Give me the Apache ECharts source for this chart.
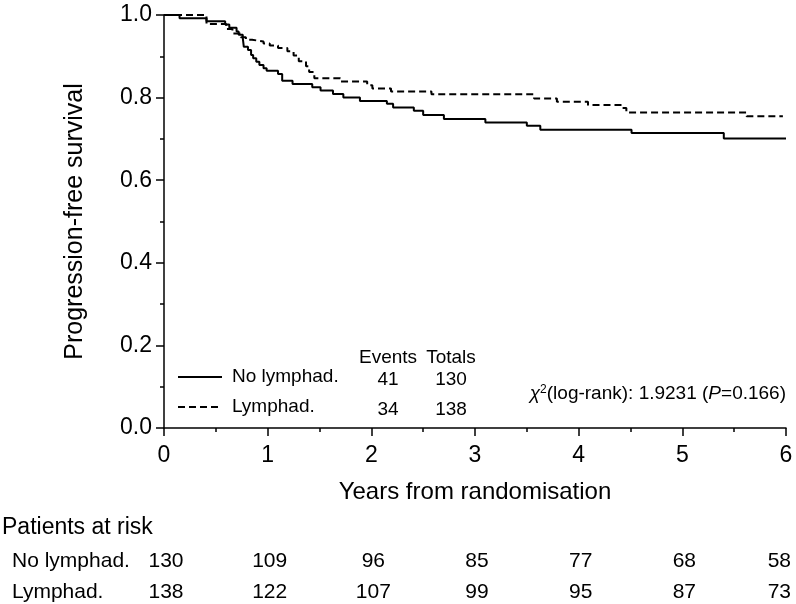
<!DOCTYPE html>
<html>
<head>
<meta charset="utf-8">
<title>Progression-free survival</title>
<script src="https://cdn.jsdelivr.net/npm/echarts@6/dist/echarts.min.js"></script>
<style>
  html, body { margin: 0; padding: 0; background: #fff; }
  #main { width: 796px; height: 604px; }
</style>
</head>
<body>
<div id="main"></div>
<script>
// curve steps: [years, survival]
var noLymphCurve = [
    [0, 1.0], [0.15, 0.992], [0.41, 0.985], [0.59, 0.977], [0.63, 0.969], [0.70, 0.96],
    [0.72, 0.952], [0.76, 0.944], [0.77, 0.923], [0.81, 0.915], [0.84, 0.903], [0.86, 0.895],
    [0.89, 0.887], [0.92, 0.879], [0.96, 0.871], [0.99, 0.865], [1.10, 0.857], [1.14, 0.841],
    [1.24, 0.833], [1.43, 0.825], [1.51, 0.817], [1.63, 0.809], [1.73, 0.80], [1.89, 0.792],
    [2.15, 0.785], [2.21, 0.776], [2.41, 0.768], [2.50, 0.758], [2.70, 0.748], [3.10, 0.740],
    [3.50, 0.732], [3.63, 0.722], [4.51, 0.714], [5.40, 0.701], [6.0, 0.701]
];
var lymphCurve = [
    [0, 1.0], [0.41, 0.978], [0.60, 0.966], [0.66, 0.955], [0.74, 0.946], [0.79, 0.94],
    [0.85, 0.936], [0.96, 0.931], [1.02, 0.926], [1.10, 0.920], [1.19, 0.912], [1.25, 0.902],
    [1.30, 0.888], [1.37, 0.876], [1.40, 0.862], [1.45, 0.847], [1.70, 0.839], [1.96, 0.830],
    [2.01, 0.822], [2.19, 0.815], [2.58, 0.808], [3.57, 0.798], [3.79, 0.790], [4.09, 0.782],
    [4.42, 0.775], [4.46, 0.764], [5.62, 0.755], [5.97, 0.755]
];

var groupNames = ['No lymphad.', 'Lymphad.'];
var groupEvents = [41, 34];
var groupTotals = [130, 138];

var riskYears = [0, 1, 2, 3, 4, 5, 6];
var riskNoLymph = [130, 109, 96, 85, 77, 68, 58];
var riskLymph = [138, 122, 107, 99, 95, 87, 73];

var font = 'Liberation Sans, Arial, Helvetica, sans-serif';

var myChart = echarts.init(document.getElementById('main'));

myChart.setOption({
    backgroundColor: '#fff',
    animation: false,
    textStyle: { fontFamily: font },
    grid: { left: 164, right: 10, top: 15, bottom: 176 },
    xAxis: {
        type: 'value',
        min: 0,
        max: 6,
        interval: 1,
        name: 'Years from randomisation',
        nameLocation: 'middle',
        nameGap: 52,
        nameTextStyle: { fontSize: 24, color: '#000', fontFamily: font },
        axisLine: { lineStyle: { color: '#000', width: 1.5 } },
        axisTick: { length: 8, lineStyle: { color: '#000', width: 1.5 } },
        minorTick: { show: true, splitNumber: 2, length: 4, lineStyle: { color: '#000', width: 1.5 } },
        axisLabel: { fontSize: 23, color: '#000', margin: 16, fontFamily: font },
        splitLine: { show: false }
    },
    yAxis: {
        type: 'value',
        min: 0,
        max: 1,
        interval: 0.2,
        name: 'Progression-free survival',
        nameLocation: 'middle',
        nameGap: 76,
        nameTextStyle: { fontSize: 25, color: '#000', fontFamily: font },
        axisLine: { show: true, lineStyle: { color: '#000', width: 1.5 } },
        axisTick: { show: true, length: 8, lineStyle: { color: '#000', width: 1.5 } },
        minorTick: { show: true, splitNumber: 2, length: 4, lineStyle: { color: '#000', width: 1.5 } },
        axisLabel: {
            fontSize: 23, color: '#000', margin: 12, fontFamily: font,
            formatter: function (v) { return v.toFixed(1); }
        },
        splitLine: { show: false }
    },
    series: [
        {
            name: groupNames[0],
            type: 'line',
            step: 'end',
            symbol: 'none',
            data: noLymphCurve,
            lineStyle: { color: '#000', width: 2 }
        },
        {
            name: groupNames[1],
            type: 'line',
            step: 'end',
            symbol: 'none',
            data: lymphCurve,
            lineStyle: { color: '#000', width: 2, type: [7, 4] }
        }
    ]
});

// legend box, risk table
var graphics = [];
var rowY = [377, 407];

groupNames.forEach(function (name, i) {
    graphics.push({
        type: 'line',
        shape: { x1: 178, y1: rowY[i], x2: 222, y2: rowY[i] },
        style: { stroke: '#000', lineWidth: 2, lineDash: i === 1 ? [7, 4] : null }
    });
    graphics.push({
        type: 'text', x: 232, y: rowY[i],
        style: { text: name, font: '19px ' + font, fill: '#000', textVerticalAlign: 'middle' }
    });
    graphics.push({
        type: 'text', x: 388, y: rowY[i] + 3,
        style: { text: String(groupEvents[i]), font: '19px ' + font, fill: '#000', textAlign: 'center', textVerticalAlign: 'middle' }
    });
    graphics.push({
        type: 'text', x: 451, y: rowY[i] + 3,
        style: { text: String(groupTotals[i]), font: '19px ' + font, fill: '#000', textAlign: 'center', textVerticalAlign: 'middle' }
    });
});

graphics.push({
    type: 'text', x: 388, y: 358,
    style: { text: 'Events', font: '19px ' + font, fill: '#000', textAlign: 'center', textVerticalAlign: 'middle' }
});
graphics.push({
    type: 'text', x: 451, y: 358,
    style: { text: 'Totals', font: '19px ' + font, fill: '#000', textAlign: 'center', textVerticalAlign: 'middle' }
});
graphics.push({
    type: 'text', right: 10, y: 384,
    style: {
        text: '{c|χ}{s|2}{n|(log-rank): 1.9231 (}{i|P}{n|=0.166)}',
        fill: '#000',
        rich: {
            c: { fontSize: 19, fontFamily: font, fontStyle: 'italic' },
            s: { fontSize: 12, fontFamily: font, verticalAlign: 'top', padding: [0, 0, 8, 0] },
            n: { fontSize: 19, fontFamily: font },
            i: { fontSize: 19, fontFamily: font, fontStyle: 'italic' }
        }
    }
});

graphics.push({
    type: 'text', x: 2, y: 528,
    style: { text: 'Patients at risk', font: '23px ' + font, fill: '#000', textVerticalAlign: 'middle' }
});

var tableY = [561, 592];
[riskNoLymph, riskLymph].forEach(function (row, r) {
    graphics.push({
        type: 'text', x: 12, y: tableY[r],
        style: { text: groupNames[r], font: '21px ' + font, fill: '#000', textVerticalAlign: 'middle' }
    });
    row.forEach(function (n, k) {
        var px = myChart.convertToPixel({ xAxisIndex: 0 }, riskYears[k]);
        var last = k === row.length - 1;
        graphics.push({
            type: 'text', x: last ? px + 5 : px + 2, y: tableY[r],
            style: {
                text: String(n), font: '21px ' + font, fill: '#000',
                textAlign: last ? 'right' : 'center', textVerticalAlign: 'middle'
            }
        });
    });
});

myChart.setOption({ graphic: graphics });
</script>
</body>
</html>
